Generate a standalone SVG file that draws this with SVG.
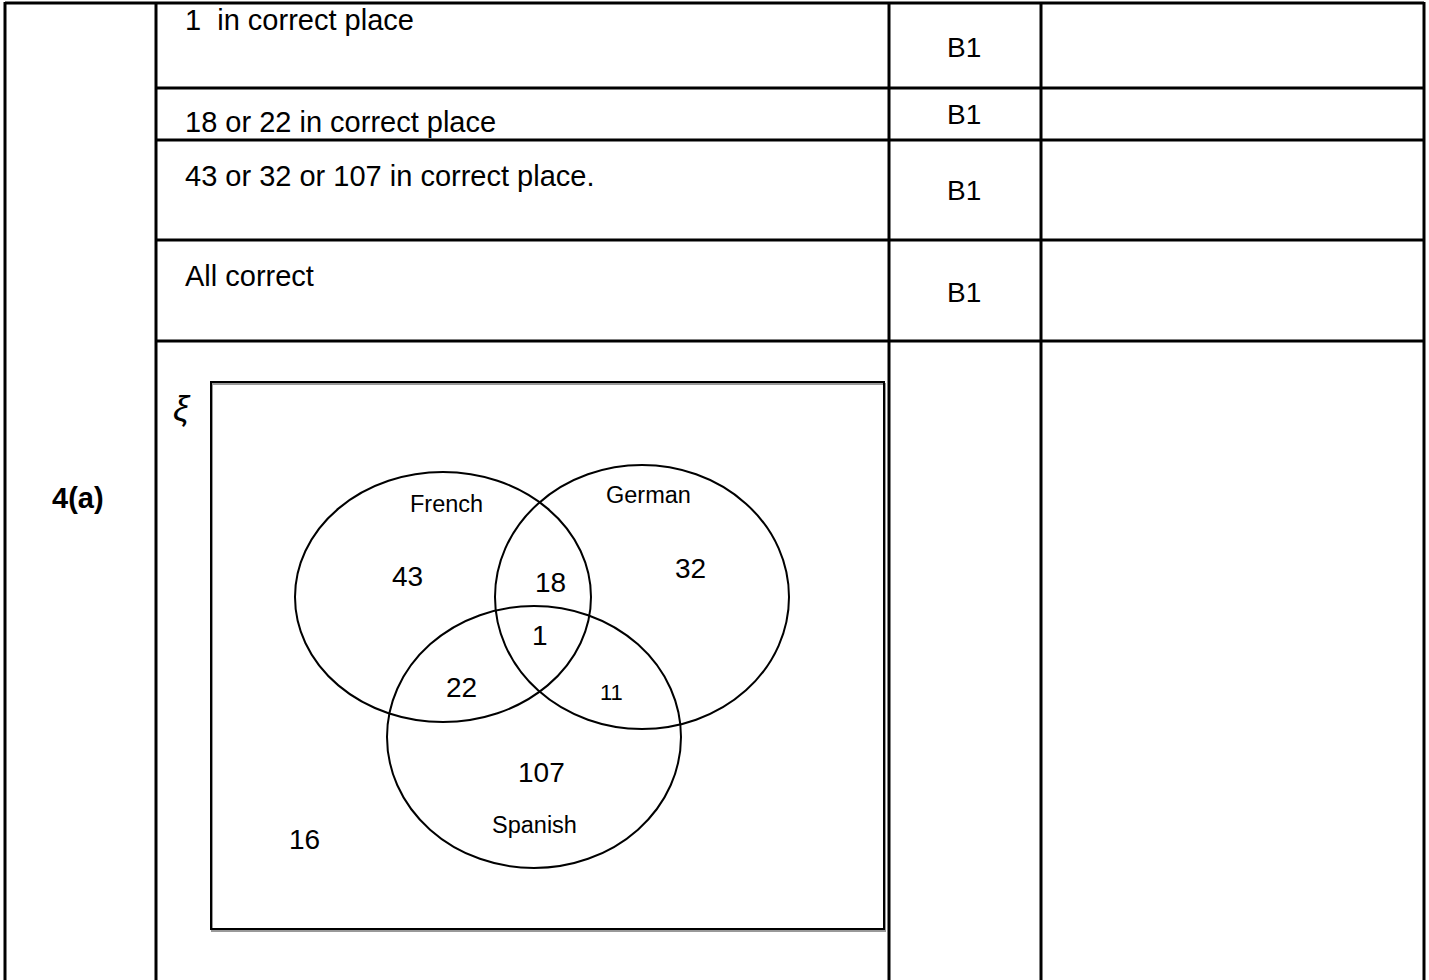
<svg xmlns="http://www.w3.org/2000/svg" width="1429" height="980" viewBox="0 0 1429 980">
<style>
.grid{stroke:#000;stroke-width:3;fill:none}
.t{font-family:"Liberation Sans",Arial,sans-serif;font-size:29px;fill:#000}
.m{font-family:"Liberation Sans",Arial,sans-serif;font-size:28px;fill:#000}
.v{font-family:"Liberation Sans",Arial,sans-serif;fill:#000}
.c{fill:none;stroke:#000;stroke-width:2}
</style>
<rect width="1429" height="980" fill="#fff"/>
<g id="table">
<path class="grid" d="M5 3H1424M156 88H1424M156 140H1424M156 240H1424M156 341H1424M5 2V980M156 2V980M889 2V980M1041 2V980M1424 2V980"/>
</g>
<g id="rows">
<text class="t" x="185" y="30" xml:space="preserve">1  in correct place</text>
<text class="m" x="947" y="57">B1</text>
<text class="t" x="185" y="132">18 or 22 in correct place</text>
<text class="m" x="947" y="124">B1</text>
<text class="t" x="185" y="186">43 or 32 or 107 in correct place.</text>
<text class="m" x="947" y="200">B1</text>
<text class="t" x="185" y="286">All correct</text>
<text class="m" x="947" y="302">B1</text>
<text class="t" x="52" y="508" font-weight="bold" font-size="30">4(a)</text>
</g>
<g id="venn">
<rect x="212" y="384" width="673" height="547" fill="none" stroke="#999" stroke-width="2"/>
<rect x="211" y="382" width="673" height="547" fill="none" stroke="#000" stroke-width="2"/>
<text class="v" x="173" y="421" font-size="36" font-style="italic" font-family="'DejaVu Serif','Liberation Serif',serif">ξ</text>
<g id="french"><ellipse class="c" cx="443" cy="597" rx="148" ry="125"/><text class="v" x="410" y="512" font-size="23.5">French</text></g>
<g id="german"><ellipse class="c" cx="642" cy="597" rx="147" ry="132"/><text class="v" x="606" y="503" font-size="23.5">German</text></g>
<g id="spanish"><ellipse class="c" cx="534" cy="737" rx="147" ry="131"/><text class="v" x="492" y="833" font-size="23.5">Spanish</text></g>
<text class="v" x="392" y="586" font-size="28">43</text>
<text class="v" x="535" y="592" font-size="28">18</text>
<text class="v" x="675" y="578" font-size="28">32</text>
<text class="v" x="532" y="645" font-size="28">1</text>
<text class="v" x="446" y="697" font-size="28">22</text>
<text class="v" x="600" y="700" font-size="22">11</text>
<text class="v" x="518" y="782" font-size="28">107</text>
<text class="v" x="289" y="849" font-size="28">16</text>
</g>
</svg>
